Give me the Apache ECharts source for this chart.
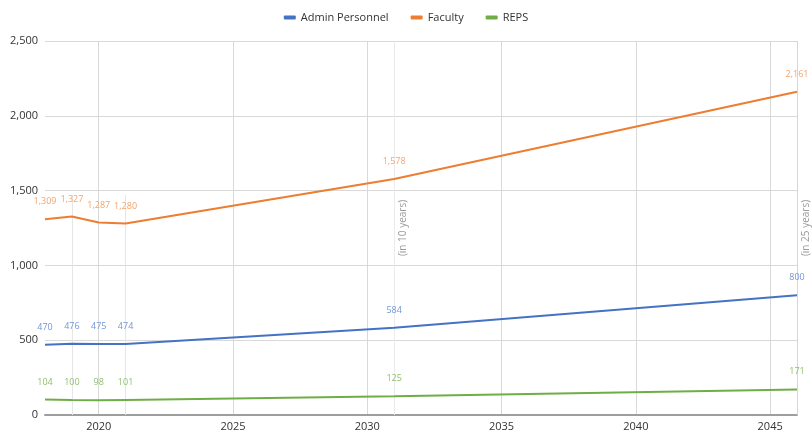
<!DOCTYPE html>
<html>
<head>
<meta charset="utf-8">
<script src="https://cdn.jsdelivr.net/npm/echarts@6/dist/echarts.min.js"></script>
<style>html,body{margin:0;padding:0;background:#fff}#c{width:812px;height:432px}</style>
</head>
<body>
<div id="c"></div>
<script>
var years = [2018, 2019, 2020, 2021, 2031, 2046];
var adminPersonnel = [470, 476, 475, 474, 584, 800];
var faculty = [1309, 1327, 1287, 1280, 1578, 2161];
var reps = [104, 100, 98, 101, 125, 171];
var xTicks = [2020, 2025, 2030, 2035, 2040, 2045];
var yTicks = [0, 500, 1000, 1500, 2000, 2500];
var notes = [{year: 2031, text: '(in 10 years)'}, {year: 2046, text: '(in 25 years)'}];
var dropYears = [2019, 2021];

var colors = ['#4472c4', '#ed7d31', '#70ad47'];
var labelColors = ['#7396d6', '#f2a46e', '#8fc16c'];
var font = 'Open Sans';

function pairs(vals) { return years.map(function (y, i) { return [y, vals[i]]; }); }
function fmt(v) { return Number(v).toLocaleString('en-US'); }

function mkSeries(name, vals, idx, extra) {
  var s = {
    name: name, type: 'line', data: pairs(vals), showSymbol: true, symbol: 'circle', symbolSize: 0,
    lineStyle: {width: 2, color: colors[idx]}, itemStyle: {color: colors[idx]},
    label: {show: true, position: 'top', distance: 13, fontSize: 9, fontFamily: font,
      color: labelColors[idx], formatter: function (p) { return fmt(p.value[1]); }},
    labelLayout: {hideOverlap: false},
    z: 3
  };
  if (extra) { for (var k in extra) s[k] = extra[k]; }
  return s;
}

var markLineData = [];
dropYears.forEach(function (y) {
  markLineData.push([{coord: [y, 0], lineStyle: {color: '#e6e6e6', width: 1, type: 'solid'}}, {coord: [y, 1470]}]);
});
notes.forEach(function (n) {
  markLineData.push([{coord: [n.year, 0], lineStyle: {color: n.year === 2046 ? '#d6d6d6' : '#ebebeb', width: 1, type: 'solid'},
    label: {show: true, formatter: n.text, position: 'insideMiddleBottom', distance: 4,
      color: '#9a9a9a', fontSize: 10, fontFamily: font}},
    {coord: [n.year, 2500]}]);
});

var chart = echarts.init(document.getElementById('c'), null, {renderer: 'canvas'});
chart.setOption({
  animation: false,
  color: colors,
  legend: {
    top: 7, left: 'center', itemWidth: 12, itemHeight: 4, itemGap: 22, icon: 'roundRect',
    textStyle: {fontSize: 11, color: '#333', fontFamily: font},
    data: ['Admin Personnel', 'Faculty', 'REPS']
  },
  grid: {left: 45, right: 15, top: 41, bottom: 17, containLabel: false},
  xAxis: {
    type: 'value', min: 2018, max: 2046,
    axisLine: {show: true, onZero: false, lineStyle: {color: '#9e9e9e', width: 2}},
    axisTick: {show: false, customValues: xTicks},
    axisLabel: {customValues: xTicks, fontSize: 11, color: '#333', fontFamily: font, margin: 6,
      formatter: function (v) { return String(v); }},
    splitLine: {show: true, lineStyle: {color: '#d9d9d9', width: 1}}
  },
  yAxis: {
    type: 'value', min: 0, max: 2500, interval: 500,
    axisLine: {show: false}, axisTick: {show: false},
    axisLabel: {fontSize: 11, color: '#333', fontFamily: font, margin: 7,
      formatter: function (v) { return fmt(v); }},
    splitLine: {show: true, lineStyle: {color: '#d9d9d9', width: 1}}
  },
  series: [
    mkSeries('Admin Personnel', adminPersonnel, 0, {
      markLine: {silent: true, symbol: 'none', animation: false, data: markLineData, z: 1}
    }),
    mkSeries('Faculty', faculty, 1),
    mkSeries('REPS', reps, 2)
  ]
});
</script>
</body>
</html>
